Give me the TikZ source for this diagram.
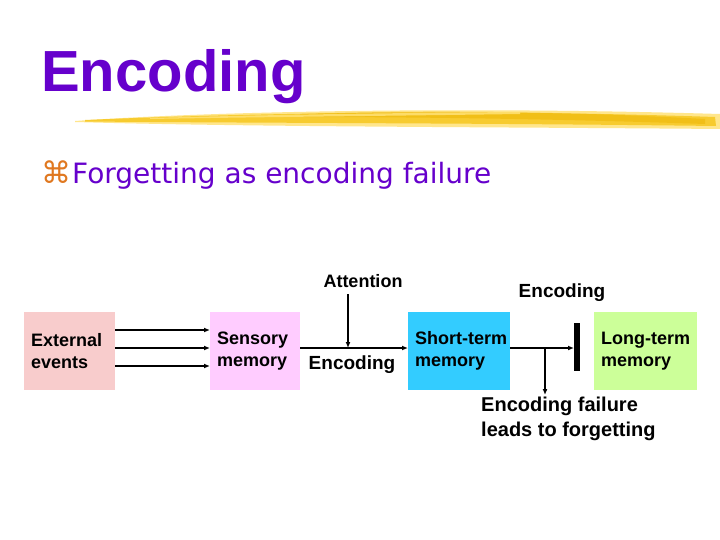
\documentclass[tikz,border=0pt]{standalone}
\usepackage{fontspec}
\setmainfont{Liberation Sans}
\newfontfamily\subfont{DejaVu Sans}
\usetikzlibrary{arrows.meta}
\definecolor{titlepurple}{HTML}{6600CC}
\definecolor{bulletorange}{HTML}{E07820}
\definecolor{extpink}{HTML}{F8CCCC}
\definecolor{senspink}{HTML}{FFCCFF}
\definecolor{stmblue}{HTML}{33CCFF}
\definecolor{ltmgreen}{HTML}{CCFF99}
\definecolor{brushA}{HTML}{F5C518}
\definecolor{brushB}{HTML}{FFE070}
\definecolor{brushC}{HTML}{EDB400}
\tikzset{
  membox/.style={draw=none, minimum width=#1, minimum height=78pt, text width=#1-14pt, inner sep=0pt, align=left, font=\fontsize{18}{22}\selectfont\bfseries, anchor=north west},
  lbl/.style={font=\fontsize{18}{25}\selectfont\bfseries, align=left, inner sep=0pt},
  arr/.style={-{Latex[length=6pt,width=5pt]}, line width=1.6pt},
}
\begin{document}
\begin{tikzpicture}[x=1pt,y=-1pt]
\useasboundingbox (0,0) rectangle (720,540);
\fill[white] (0,0) rectangle (720,540);
% title
\node[anchor=base west, inner sep=0pt, text=titlepurple, font=\fontsize{58}{58}\selectfont\bfseries] (title) at (41,92) {Encoding};
% brush stroke
\fill[brushB, opacity=0.8] (75,121) .. controls (200,112) and (450,106) .. (720,114) -- (720,129) .. controls (500,127) and (250,127) .. (75,122) -- cycle;
\fill[brushA, opacity=0.8] (85,120) .. controls (250,113) and (480,109) .. (715,117) -- (716,126) .. controls (480,123) and (250,123) .. (85,121.5) -- cycle;
\fill[brushC, opacity=0.5] (300,114) .. controls (420,110) and (560,111) .. (705,119) -- (705,124) .. controls (560,119) and (420,117) .. (300,117) -- cycle;
\fill[brushB, opacity=0.9] (150,118) .. controls (260,115) and (380,113) .. (520,112) -- (520,114) .. controls (380,116) and (260,117) .. (150,119) -- cycle;
% subtitle
\node[anchor=base west, inner sep=0pt, font=\subfont\fontsize{28}{28}\selectfont] (sub) at (41,184) {\textcolor{bulletorange}{\fontsize{30}{30}\selectfont ⌘}\hspace{1pt}\textcolor{titlepurple}{Forgetting as encoding failure}};
% boxes
\node[membox=91pt, fill=extpink] (ext) at (24,312) {External\\events};
\node[membox=90pt, fill=senspink] (sens) at (210,312) {Sensory\\memory};
\node[membox=102pt, fill=stmblue] (stm) at (408,312) {\mbox{Short-term}\\memory};
\node[membox=103pt, fill=ltmgreen] (ltm) at (594,312) {\mbox{Long-term}\\memory};
% arrows ext -> sens
\draw[arr] (ext.east |- 0,330) -- (sens.west |- 0,330);
\draw[arr] (ext.east |- 0,348) -- (sens.west |- 0,348);
\draw[arr] (ext.east |- 0,366) -- (sens.west |- 0,366);
% sens -> stm
\coordinate (att) at (348,348);
\draw[arr] (sens.east |- 0,348) -- (stm.west |- 0,348);
\node[lbl] (attn) at (363,281) {Attention};
\draw[arr] (348,294) coordinate (attop) -- (att);
\node[lbl, font=\fontsize{19}{25}\selectfont\bfseries] (enc1) at (352,365) {Encoding};
% stm -> bar
\coordinate (barmid) at (577,348);
\fill[black] (574,323) rectangle (580,371);
\node[lbl, font=\fontsize{19}{25}\selectfont\bfseries] (enc2) at (562,293) {Encoding};
\draw[arr] (stm.east |- 0,348) -- (574,348);
\coordinate (fork) at (545,348);
\coordinate (failtip) at (545,395);
\draw[arr] (fork) -- (failtip);
\node[lbl, anchor=north west, font=\fontsize{20}{25}\selectfont\bfseries] (fail) at (481,397) {Encoding failure\\leads to forgetting};
\end{tikzpicture}
\end{document}
